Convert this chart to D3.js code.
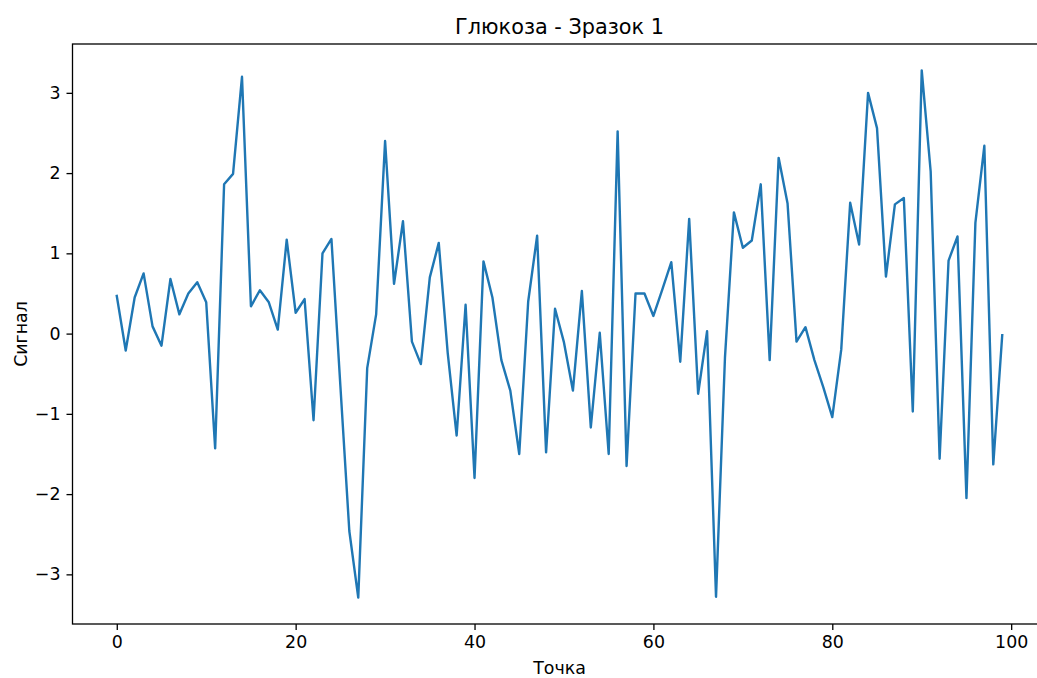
<!DOCTYPE html>
<html>
<head>
<meta charset="utf-8">
<script src="https://cdn.jsdelivr.net/npm/d3@7/dist/d3.min.js"></script>
<style>
  body { margin: 0; background: #fff; overflow: hidden; }
  svg { font-family: "DejaVu Sans", sans-serif; display: block; }
</style>
</head>
<body>
<svg id="chart"></svg>
<script>
// signal values, one per point 0..99
const signal = [
  0.47, -0.21, 0.45, 0.75, 0.09, -0.15, 0.68, 0.24, 0.50, 0.64,
  0.39, -1.43, 1.86, 1.99, 3.20, 0.34, 0.54, 0.39, 0.05, 1.17,
  0.26, 0.43, -1.08, 1.00, 1.18, -0.65, -2.46, -3.29, -0.43, 0.24,
  2.40, 0.62, 1.40, -0.10, -0.38, 0.70, 1.13, -0.24, -1.27, 0.36,
  -1.80, 0.90, 0.45, -0.33, -0.71, -1.50, 0.40, 1.22, -1.48, 0.31,
  -0.11, -0.71, 0.53, -1.17, 0.01, -1.50, 2.52, -1.65, 0.50, 0.50,
  0.22, 0.55, 0.89, -0.35, 1.43, -0.75, 0.03, -3.28, -0.30, 1.51,
  1.07, 1.16, 1.86, -0.33, 2.19, 1.62, -0.10, 0.08, -0.33, -0.67,
  -1.04, -0.20, 1.63, 1.11, 3.00, 2.56, 0.71, 1.61, 1.69, -0.97,
  3.28, 2.02, -1.56, 0.91, 1.21, -2.05, 1.38, 2.34, -1.63, -0.02
];
const points = signal.map((v, i) => i);
const xTicks = [0, 20, 40, 60, 80, 100];
const yTicks = [-3, -2, -1, 0, 1, 2, 3];

const title = "Глюкоза - Зразок 1";
const xLabel = "Точка";
const yLabel = "Сигнал";

const W = 1037, H = 678;
// plot area (right edge runs past the picture, as in the original)
const plot = { left: 72.5, top: 44, right: 1046.5, bottom: 624 };

const svg = d3.select("#chart")
    .attr("width", W)
    .attr("height", H);

// matplotlib style 5% margins
const xMin = d3.min(points), xMax = d3.max(points);
const xPad = (xMax - xMin) * 0.05;
const yMin = d3.min(signal), yMax = d3.max(signal);
const yPad = (yMax - yMin) * 0.05;

const xScale = d3.scaleLinear()
    .domain([xMin - xPad, xMax + xPad])
    .range([plot.left, plot.right]);

const yScale = d3.scaleLinear()
    .domain([yMin - yPad, yMax + yPad])
    .range([plot.bottom, plot.top]);

// the line itself
const line = d3.line()
    .x((d, i) => xScale(points[i]))
    .y(d => yScale(d));

svg.append("path")
    .datum(signal)
    .attr("fill", "none")
    .attr("stroke", "#1f77b4")
    .attr("stroke-width", 2.4)
    .attr("stroke-linejoin", "round")
    .attr("stroke-linecap", "square")
    .attr("d", line);

// axes
const xAxis = d3.axisBottom(xScale)
    .tickValues(xTicks)
    .tickSize(6)
    .tickPadding(5.5)
    .tickSizeOuter(0);

const yAxis = d3.axisLeft(yScale)
    .tickValues(yTicks)
    .tickSize(6)
    .tickPadding(6)
    .tickSizeOuter(0)
    .tickFormat(d => d < 0 ? "\u2212" + Math.abs(d) : d);

const gx = svg.append("g")
    .attr("transform", `translate(0,${plot.bottom})`)
    .call(xAxis);
const gy = svg.append("g")
    .attr("transform", `translate(${plot.left},0)`)
    .call(yAxis);

[gx, gy].forEach(g => {
    g.select(".domain").remove();
    g.selectAll(".tick line").attr("stroke", "#000").attr("stroke-width", 1.3);
    g.selectAll(".tick text")
        .attr("fill", "#000")
        .style("font-size", "17.4px")
        .style("font-family", "'DejaVu Sans', sans-serif");
});

// frame
svg.append("rect")
    .attr("x", plot.left)
    .attr("y", plot.top)
    .attr("width", plot.right - plot.left)
    .attr("height", plot.bottom - plot.top)
    .attr("fill", "none")
    .attr("stroke", "#000")
    .attr("stroke-width", 1.3);

// title and axis labels
svg.append("text")
    .attr("x", (plot.left + plot.right) / 2)
    .attr("y", plot.top - 10)
    .attr("text-anchor", "middle")
    .style("font-size", "20.8px")
    .text(title);

svg.append("text")
    .attr("x", (plot.left + plot.right) / 2)
    .attr("y", 674)
    .attr("text-anchor", "middle")
    .style("font-size", "17.4px")
    .text(xLabel);

svg.append("text")
    .attr("transform", `translate(27,${(plot.top + plot.bottom) / 2}) rotate(-90)`)
    .attr("text-anchor", "middle")
    .style("font-size", "17.4px")
    .text(yLabel);
</script>
</body>
</html>
